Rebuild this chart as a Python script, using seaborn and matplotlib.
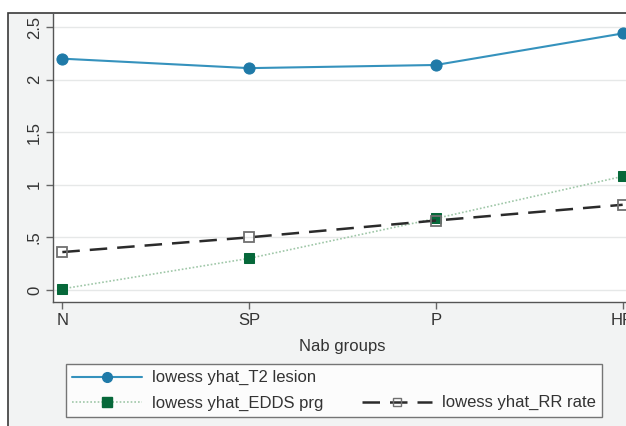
import matplotlib
matplotlib.use("Agg")
import matplotlib.pyplot as plt
import seaborn as sns
from matplotlib.lines import Line2D
from matplotlib.patches import Rectangle

groups = ["N", "SP", "P", "HP"]
t2_lesion = [2.20, 2.11, 2.14, 2.44]
edds_prg = [0.01, 0.30, 0.68, 1.08]
rr_rate = [0.36, 0.50, 0.66, 0.81]
y_ticks = [0, 0.5, 1, 1.5, 2, 2.5]
y_labels = ["0", ".5", "1", "1.5", "2", "2.5"]

sns.set_style("white")
plt.rcParams["font.family"] = ["Liberation Sans", "DejaVu Sans"]

W, H = 626, 426
fig = plt.figure(figsize=(W / 100, H / 100), dpi=100, facecolor="white")

# Stata-style outer frame, cut off at the right and bottom
frame = Rectangle((8 / W, -0.1), 1.2, 1 - 13 / H + 0.1,
                  transform=fig.transFigure, facecolor="#f2f3f3",
                  edgecolor="#3a3a3a", linewidth=1.2, zorder=-5)
fig.patches.append(frame)

left, bottom, top = 53 / W, 1 - 302 / H, 1 - 14 / H
ax = fig.add_axes([left, bottom, 579 / W, top - bottom])
ax.set_zorder(2)
ax.set_facecolor("white")

sns.lineplot(x=groups, y=t2_lesion, ax=ax, color="#3592bd", lw=1.5,
             marker="o", ms=8, mfc="#1f7aa8", mec="#1f7aa8", sort=False,
             zorder=4)
sns.lineplot(x=groups, y=edds_prg, ax=ax, color="#9fc7a8", lw=1.2,
             ls=(0, (1, 1.2)), marker="s", ms=7.5, mfc="#06683a",
             mec="#06683a", sort=False, zorder=3)
sns.lineplot(x=groups, y=rr_rate, ax=ax, color="#2b2b2b", lw=1.8,
             ls=(0, (7, 4)), marker="s", ms=7, mfc="none", mec="#707070",
             mew=1.3, sort=False, zorder=3)

ax.set_xlim(-0.05, 3.05)
ax.set_ylim(-0.115, 2.625)
ax.set_yticks(y_ticks)
ax.set_yticklabels(y_labels, rotation=90, va="center")
ax.yaxis.grid(True, color="#e6e8e8", lw=1)
ax.xaxis.grid(False)
for s in ["top", "right"]:
    ax.spines[s].set_visible(False)
for s in ["left", "bottom"]:
    ax.spines[s].set_color("#555555")
    ax.spines[s].set_linewidth(1)
ax.tick_params(axis="both", direction="out", length=5, width=1,
               color="#666666", labelsize=12, labelcolor="#333333", pad=3)
ax.tick_params(axis="y", left=True)
ax.tick_params(axis="x", bottom=True)
ax.set_xlabel("Nab groups", fontsize=12, color="#333333", labelpad=8)
ax.set_ylabel("")

h_t2 = Line2D([], [], color="#3592bd", lw=1.5, marker="o", ms=7,
              mfc="#1f7aa8", mec="#1f7aa8")
h_edds = Line2D([], [], color="#9fc7a8", lw=1.2, ls=(0, (1, 1.2)),
                marker="s", ms=6.5, mfc="#06683a", mec="#06683a")
h_rr = Line2D([], [], color="#2b2b2b", lw=1.8, ls=(0, (7, 4)), marker="s",
              ms=6, mfc="none", mec="#707070")
h_blank = Line2D([], [], color="none")
leg = fig.legend([h_t2, h_edds, h_blank, h_rr],
                 ["lowess yhat_T2 lesion", "lowess yhat_EDDS prg", "",
                  "lowess yhat_RR rate"],
                 ncol=2, loc="upper left", bbox_to_anchor=(66 / W, 1 - 364 / H),
                 frameon=True, fancybox=False, fontsize=12, handlelength=4.2,
                 columnspacing=2.3, handletextpad=0.6, labelspacing=0.6,
                 borderpad=0.38, borderaxespad=0)
leg.set_zorder(3)
leg.get_frame().set_edgecolor("#555555")
leg.get_frame().set_linewidth(1)
for t in leg.get_texts():
    t.set_color("#333333")

fig.savefig("out.png", dpi=100, facecolor=fig.get_facecolor())
